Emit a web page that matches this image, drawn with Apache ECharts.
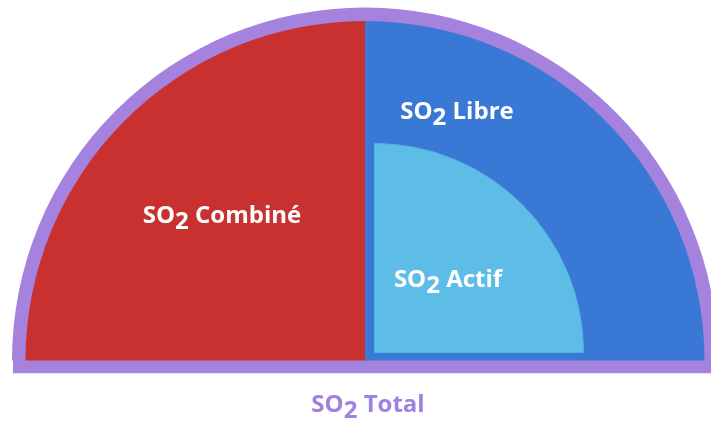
<!DOCTYPE html>
<html>
<head>
<meta charset="utf-8">
<script src="https://cdn.jsdelivr.net/npm/echarts@6/dist/echarts.min.js"></script>
<style>
  html, body { margin: 0; padding: 0; background: #fff; }
  #main { width: 711px; height: 421px; }
</style>
</head>
<body>
<div id="main"></div>
<script>
// parts of total SO2 (upper half disc)
var parts = ['SO2 Combiné', 'SO2 Libre'];
var partValues = [50, 50];
var partColors = ['#c93030', '#3a78d6'];
// active share drawn as a quarter inside "Libre"
var actifName = 'SO2 Actif';
var actifValue = [1];
var totalName = 'SO2 Total';

// label positions (px)
var labelPos = {
  'SO2 Combiné': [222, 219],
  'SO2 Libre': [457, 115],
  'SO2 Actif': [448, 283],
  'SO2 Total': [368, 408]
};

var chart = echarts.init(document.getElementById('main'));

var font = '"Open Sans", sans-serif';

function so2Label(name) {
  var rest = name.replace('SO2', '');
  return '{a|SO}{s|2}{a|' + rest + '}';
}

function richStyle(color) {
  return {
    a: { color: color, fontFamily: font, fontWeight: 'bold', fontSize: 24, padding: [0, 0, 6, 0] },
    s: { color: color, fontFamily: font, fontWeight: 'bold', fontSize: 24, padding: [6, 0, 0, 0] }
  };
}

function placeLabel(name) {
  var p = labelPos[name];
  return { x: p[0], y: p[1], align: 'center', verticalAlign: 'middle' };
}

var center = [365, 360.5];

var option = {
  animation: false,
  graphic: [{
    type: 'rect',
    shape: { x: 13, y: 360, width: 705, height: 13.3 },
    style: { fill: '#a482de' },
    silent: true
  }],
  series: [
    {
      // outer ring = total
      type: 'pie',
      silent: true,
      center: center,
      radius: [0, 353],
      startAngle: 180,
      endAngle: 0,
      z: 1,
      itemStyle: { color: '#a482de', borderWidth: 0 },
      label: {
        show: true,
        position: 'inside',
        formatter: function (p) { return so2Label(p.name); },
        rich: richStyle('#a080e0')
      },
      labelLine: { show: false },
      labelLayout: function (p) { return placeLabel(totalName); },
      emphasis: { disabled: true },
      data: [{ name: totalName, value: 100 }]
    },
    {
      type: 'pie',
      silent: true,
      center: center,
      radius: [0, 339.5],
      startAngle: 180,
      endAngle: 0,
      z: 2,
      itemStyle: { borderWidth: 0 },
      label: {
        show: true,
        position: 'inside',
        formatter: function (p) { return so2Label(p.name); },
        rich: richStyle('#ffffff')
      },
      labelLine: { show: false },
      labelLayout: function (p) { return placeLabel(parts[p.dataIndex]); },
      emphasis: { disabled: true },
      data: parts.map(function (n, i) {
        return { name: n, value: partValues[i], itemStyle: { color: partColors[i] } };
      })
    },
    {
      type: 'pie',
      silent: true,
      center: [374.5, 352.5],
      radius: [0, 209],
      startAngle: 90,
      endAngle: 0,
      z: 3,
      itemStyle: { color: '#5ebde6', borderColor: '#55b2e0', borderWidth: 1 },
      label: {
        show: true,
        position: 'inside',
        formatter: function (p) { return so2Label(p.name); },
        rich: richStyle('#ffffff')
      },
      labelLine: { show: false },
      labelLayout: function (p) { return placeLabel(actifName); },
      emphasis: { disabled: true },
      data: actifValue.map(function (v) { return { name: actifName, value: v }; })
    }
  ]
};

chart.setOption(option);
</script>
</body>
</html>
